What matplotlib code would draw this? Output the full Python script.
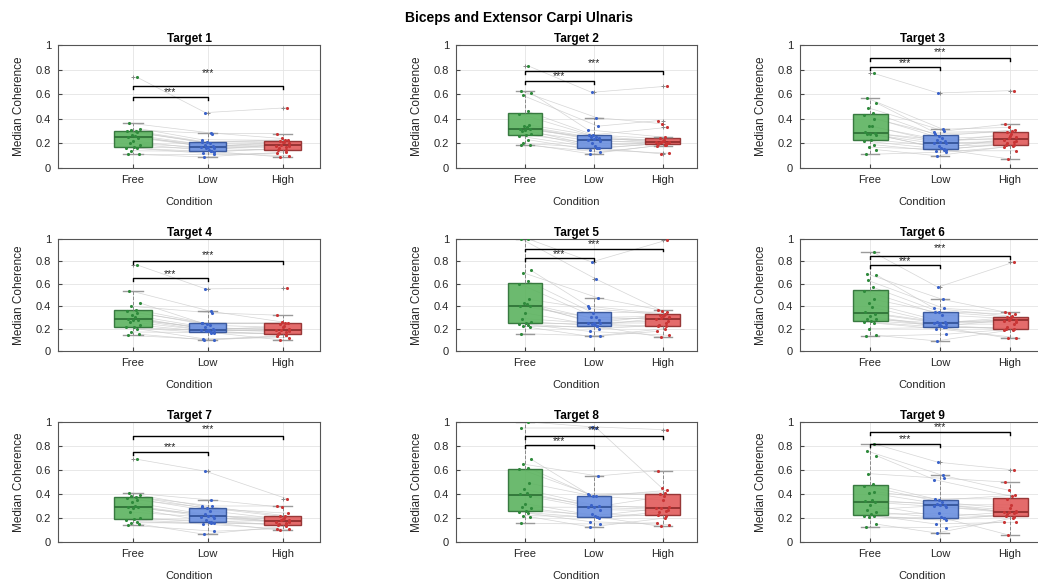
import matplotlib
matplotlib.use('Agg')
import matplotlib.pyplot as plt
import numpy as np

plt.rcParams['font.family'] = ['Liberation Sans', 'DejaVu Sans']

CONDITIONS = ['Free', 'Low', 'High']

# median coherence per subject, sorted ascending within each condition
T1_FREE = [.11, .11, .14, .16, .165, .17, .19, .20, .22, .245, .255, .26, .27, .29, .30, .30, .31, .32, .365, .74]
T1_LOW = [.09, .11, .12, .13, .135, .14, .15, .16, .165, .17, .17, .18, .19, .20, .21, .21, .23, .28, .285, .45]
T1_HIGH = [.09, .10, .12, .13, .145, .15, .16, .17, .18, .18, .19, .20, .21, .215, .22, .225, .23, .24, .28, .49]

T2_FREE = [.19, .19, .20, .23, .26, .27, .28, .30, .31, .32, .32, .33, .34, .35, .44, .46, .59, .61, .625, .83]
T2_LOW = [.115, .13, .15, .16, .165, .165, .18, .20, .22, .225, .235, .24, .25, .255, .27, .27, .31, .34, .41, .615]
T2_HIGH = [.115, .12, .18, .19, .19, .195, .20, .20, .205, .21, .21, .215, .22, .23, .24, .25, .33, .36, .385, .665]

T3_FREE = [.11, .15, .17, .19, .22, .23, .27, .28, .28, .285, .29, .34, .34, .40, .43, .45, .49, .53, .57, .77]
T3_LOW = [.10, .13, .14, .15, .15, .155, .16, .18, .20, .20, .21, .22, .23, .24, .26, .28, .29, .30, .315, .61]
T3_HIGH = [.075, .14, .17, .18, .19, .19, .20, .21, .22, .23, .24, .25, .26, .28, .29, .30, .31, .33, .355, .63]

T4_FREE = [.14, .15, .17, .20, .21, .21, .23, .26, .28, .28, .29, .30, .32, .34, .36, .37, .40, .43, .54, .77]
T4_LOW = [.10, .10, .11, .16, .165, .17, .18, .18, .19, .19, .19, .20, .21, .23, .245, .25, .25, .34, .355, .555]
T4_HIGH = [.10, .12, .13, .14, .145, .15, .16, .17, .18, .19, .19, .20, .21, .22, .245, .25, .25, .26, .32, .56]

T5_FREE = [.155, .21, .22, .235, .245, .25, .26, .29, .34, .40, .40, .42, .43, .46, .60, .625, .70, .72, 1.0, 1.0]
T5_LOW = [.13, .135, .175, .20, .22, .225, .23, .24, .25, .25, .25, .28, .30, .30, .34, .38, .40, .475, .64, .795]
T5_HIGH = [.125, .14, .175, .20, .22, .22, .23, .25, .27, .285, .295, .30, .31, .32, .325, .33, .35, .36, .37, .99]

T6_FREE = [.13, .14, .20, .25, .26, .27, .29, .29, .31, .33, .35, .39, .43, .46, .54, .57, .63, .68, .69, .88]
T6_LOW = [.09, .15, .20, .21, .21, .215, .22, .23, .24, .25, .25, .255, .26, .32, .35, .35, .38, .38, .46, .57]
T6_HIGH = [.115, .12, .19, .19, .195, .20, .21, .24, .26, .27, .28, .28, .29, .30, .305, .31, .33, .34, .35, .795]

T7_FREE = [.14, .15, .16, .17, .185, .19, .20, .25, .28, .29, .29, .30, .33, .35, .37, .375, .38, .39, .41, .69]
T7_LOW = [.065, .09, .15, .155, .16, .165, .17, .18, .20, .21, .22, .22, .23, .26, .28, .29, .30, .30, .35, .59]
T7_HIGH = [.10, .105, .11, .13, .14, .145, .15, .16, .17, .17, .18, .18, .19, .20, .215, .22, .24, .29, .30, .36]

T8_FREE = [.155, .21, .22, .24, .25, .26, .28, .29, .32, .38, .40, .41, .44, .49, .61, .62, .65, .69, .95, 1.0]
T8_LOW = [.125, .15, .17, .20, .21, .21, .22, .23, .27, .29, .29, .30, .31, .38, .38, .39, .40, .55, .95, .96]
T8_HIGH = [.13, .145, .16, .20, .22, .225, .25, .26, .27, .28, .28, .29, .35, .38, .40, .41, .43, .45, .595, .935]

T9_FREE = [.125, .15, .21, .22, .22, .23, .25, .27, .31, .33, .34, .35, .41, .42, .47, .48, .57, .72, .76, .82]
T9_LOW = [.075, .12, .15, .18, .20, .20, .21, .24, .29, .30, .31, .31, .32, .33, .35, .36, .52, .53, .555, .665]
T9_HIGH = [.06, .165, .17, .20, .21, .22, .23, .24, .25, .25, .25, .26, .28, .31, .36, .38, .39, .43, .50, .60]

TARGETS = [
    (T1_FREE, T1_LOW, T1_HIGH), (T2_FREE, T2_LOW, T2_HIGH), (T3_FREE, T3_LOW, T3_HIGH),
    (T4_FREE, T4_LOW, T4_HIGH), (T5_FREE, T5_LOW, T5_HIGH), (T6_FREE, T6_LOW, T6_HIGH),
    (T7_FREE, T7_LOW, T7_HIGH), (T8_FREE, T8_LOW, T8_HIGH), (T9_FREE, T9_LOW, T9_HIGH),
]

# which sorted entry of Low / High belongs to subject i
PAIR_LOW = [1, 0, 4, 2, 3, 7, 5, 9, 6, 8, 12, 10, 11, 15, 13, 14, 17, 16, 18, 19]
PAIR_HIGH = [2, 3, 0, 1, 6, 4, 5, 8, 10, 7, 9, 13, 11, 14, 12, 16, 18, 15, 17, 19]

# significance brackets: (Free-Low line, Free-High line) heights
BRACKETS = [(.58, .665), (.71, .79), (.82, .895), (.65, .80), (.83, .915),
            (.765, .85), (.75, .885), (.81, .885), (.82, .915)]
STAR_Y = [(.615, .77), (.745, .855), (.855, .94), (.685, .86), (.865, .955),
          (.80, .92), (.795, .94), (.845, .93), (.855, .955)]

JITTER = [-0.06, 0.08, -0.02, 0.05, -0.09, 0.02, 0.09, -0.04, 0.0, 0.07,
          -0.07, 0.03, -0.01, 0.06, -0.08, 0.04, -0.03, 0.09, -0.05, 0.05]

FACE = ['#5cb35f', '#6a8fdf', '#e15b5b']
EDGE = ['#2b6e33', '#2f4f96', '#8e2a2a']
DOT = ['#2f8a3c', '#3b63c9', '#c93535']

# axes placement in pixels
COL_LEFT = [58, 456, 800]
COL_W = [262, 241, 245]
ROW_TOP = [45, 239, 422]
ROW_BOT = [168, 351, 542]

W, H = 1038, 584
fig = plt.figure(figsize=(W / 100, H / 100), dpi=100)
fig.text(0.5, 1 - 18 / H, 'Biceps and Extensor Carpi Ulnaris', ha='center', va='center',
         fontsize=10, fontweight='bold')

for k, (free, low, high) in enumerate(TARGETS):
    r, c = divmod(k, 3)
    ax = fig.add_axes([COL_LEFT[c] / W, 1 - ROW_BOT[r] / H, COL_W[c] / W,
                       (ROW_BOT[r] - ROW_TOP[r]) / H])
    groups = [np.array(free), np.array(low)[PAIR_LOW], np.array(high)[PAIR_HIGH]]
    n = len(free)
    xs = [np.full(n, i + 1.0) + np.roll(JITTER, 3 * i) for i in range(3)]

    # subject lines
    for s in range(n):
        ax.plot([xs[0][s], xs[1][s], xs[2][s]], [g[s] for g in groups],
                color='#c4c4c4', lw=0.5, alpha=0.7, zorder=1)

    bp = ax.boxplot(groups, positions=[1, 2, 3], widths=0.5, patch_artist=True,
                    capwidths=0.26, whis=1.5, zorder=2,
                    whiskerprops=dict(color='#8a8a8a', ls='--', lw=0.7),
                    capprops=dict(color='#9a9a9a', lw=1.0),
                    flierprops=dict(marker='+', markeredgecolor='#8a8a8a', markersize=3,
                                    markeredgewidth=0.7))
    for i in range(3):
        bp['boxes'][i].set(facecolor=FACE[i], edgecolor=EDGE[i], alpha=0.9, lw=1.0)
        bp['medians'][i].set(color=EDGE[i], lw=1.2)
        ax.scatter(xs[i], groups[i], s=5, color=DOT[i], zorder=3, linewidths=0)

    # brackets
    b1, b2 = BRACKETS[k]
    s1, s2 = STAR_Y[k]
    for yb, x2, ys in [(b1, 2, s1), (b2, 3, s2)]:
        ax.plot([1, 1, x2, x2], [yb - 0.025, yb, yb, yb - 0.025], color='black', lw=1.0, zorder=4)
        ax.text((1 + x2) / 2, ys, '***', ha='center', va='center', fontsize=7.5, color='#262626')

    ax.set_xlim(0, 3.5)
    ax.set_ylim(0, 1)
    ax.set_xticks([1, 2, 3])
    ax.set_xticklabels(CONDITIONS)
    ax.set_yticks([0, 0.2, 0.4, 0.6, 0.8, 1])
    ax.set_yticklabels(['0', '0.2', '0.4', '0.6', '0.8', '1'])
    ax.tick_params(direction='in', length=3, labelsize=8, color='#444444',
                   labelcolor='#262626', pad=5)
    ax.grid(True, color='#e4e4e4', lw=0.6, zorder=0)
    ax.set_axisbelow(True)
    for sp in ax.spines.values():
        sp.set_color('#555555')
        sp.set_linewidth(0.8)
    ax.set_title('Target %d' % (k + 1), fontsize=8.5, fontweight='bold', pad=2)
    ax.set_xlabel('Condition', fontsize=8, labelpad=9, color='#262626')
    ax.set_ylabel('Median Coherence', fontsize=8.5, labelpad=8, color='#262626')

fig.savefig('out.png', dpi=100)
